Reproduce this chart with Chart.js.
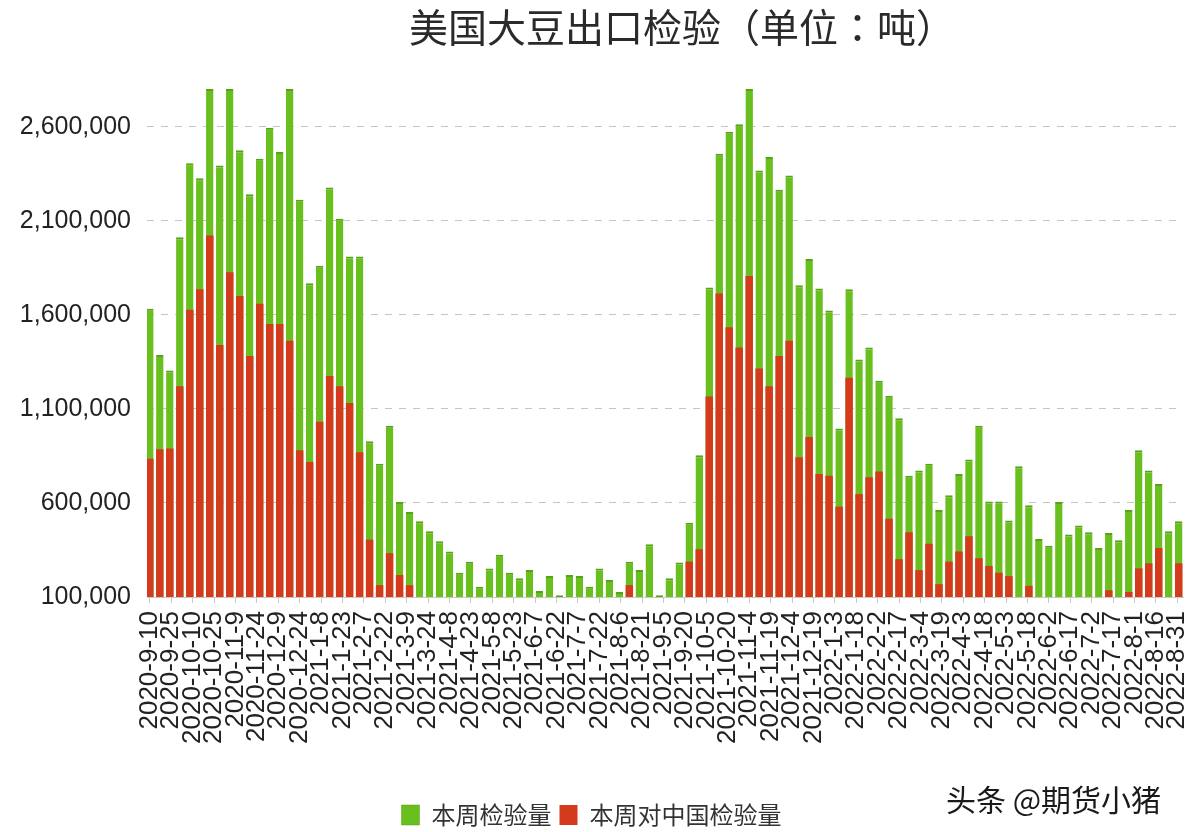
<!DOCTYPE html>
<html>
<head>
<meta charset="utf-8">
<script src="https://cdn.jsdelivr.net/npm/chart.js@4/dist/chart.umd.min.js"></script>
<style>
  html, body { margin: 0; padding: 0; background: #fff; }
  #wrap { position: relative; width: 1188px; height: 832px; }
  #title {
    position: absolute; left: 682px; top: 4px; transform: translateX(-50%);
    font: 39px "Noto Sans CJK SC", sans-serif; color: #2a2a2a; white-space: nowrap; line-height: 1.1;
  }
  #title .p { font-family: "Noto Sans CJK TC", sans-serif; }
  #mark {
    position: absolute; left: 946px; top: 776px;
    font: 30px "Noto Sans CJK SC", sans-serif; color: #1a1a1a; white-space: nowrap;
    text-shadow: 0 0 3px #fff;
  }
</style>
</head>
<body>
<div id="wrap">
  <canvas id="chart" width="1188" height="832"></canvas>
  <div id="title">美国大豆出口检验<span class="p">（</span>单位<span class="p">：</span>吨<span class="p">）</span></div>
  <div id="mark">头条 @期货小猪</div>
</div>
<script>
// weekly inspections, starting 2020-9-10
const startDate = "2020-9-10"

const totalInspected = [
  1632000, 1386000, 1304000, 2012000, 2406000, 2326000, 2800000, 2394000, 2800000, 2475000,
  2241000, 2429000, 2594000, 2465000, 2800000, 2211000, 1767000, 1860000, 2277000, 2111000,
  1910000, 1910000, 928000, 808000, 1010000, 605000, 552000, 503000, 449000, 396000,
  342000, 229000, 288000, 154000, 252000, 324000, 229000, 199000, 243000, 132000,
  211000, 109000, 217000, 211000, 154000, 252000, 190000, 127000, 288000, 243000,
  380000, 109000, 199000, 283000, 494000, 853000, 1745000, 2456000, 2573000, 2612000,
  2800000, 2367000, 2439000, 2265000, 2340000, 1757000, 1896000, 1740000, 1623000, 996000,
  1736000, 1362000, 1426000, 1250000, 1170000, 1050000, 745000, 772000, 808000, 562000,
  641000, 754000, 831000, 1010000, 607000, 607000, 507000, 795000, 588000, 408000,
  373000, 605000, 432000, 480000, 444000, 360000, 440000, 401000, 562000, 880000,
  772000, 700000, 449000, 503000
]

const toChina = [
  835000, 885000, 889000, 1220000, 1627000, 1736000, 2021000, 1439000, 1826000, 1700000,
  1381000, 1659000, 1551000, 1551000, 1462000, 880000, 817000, 1032000, 1274000, 1220000,
  1131000, 870000, 405000, 163000, 333000, 217000, 163000, null, null, null,
  null, null, null, null, null, null, null, null, null, null,
  null, null, null, null, null, null, null, null, 163000, null,
  null, null, null, null, 288000, 354000, 1166000, 1713000, 1534000, 1426000,
  1806000, 1315000, 1220000, 1381000, 1462000, 843000, 951000, 754000, 745000, 580000,
  1265000, 647000, 736000, 767000, 516000, 301000, 444000, 243000, 383000, 168000,
  288000, 342000, 423000, 306000, 265000, 229000, 211000, null, 159000, null,
  null, null, null, null, null, null, 136000, null, 127000, 252000,
  279000, 360000, null, 279000
]

const tickLabels = [
  "2020-9-10", "2020-9-25", "2020-10-10", "2020-10-25", "2020-11-9", "2020-11-24", "2020-12-9",
  "2020-12-24", "2021-1-8", "2021-1-23", "2021-2-7", "2021-2-22", "2021-3-9", "2021-3-24",
  "2021-4-8", "2021-4-23", "2021-5-8", "2021-5-23", "2021-6-7", "2021-6-22", "2021-7-7",
  "2021-7-22", "2021-8-6", "2021-8-21", "2021-9-5", "2021-9-20", "2021-10-5", "2021-10-20",
  "2021-11-4", "2021-11-19", "2021-12-4", "2021-12-19", "2022-1-3", "2022-1-18", "2022-2-2",
  "2022-2-17", "2022-3-4", "2022-3-19", "2022-4-3", "2022-4-18", "2022-5-3", "2022-5-18",
  "2022-6-2", "2022-6-17", "2022-7-2", "2022-7-17", "2022-8-1", "2022-8-16", "2022-8-31"
]

const yTicks = [100000, 600000, 1100000, 1600000, 2100000, 2600000]

// days since startDate
function dayOf(s) {
  const [y, m, d] = s.split("-").map(Number)
  const [y0, m0, d0] = startDate.split("-").map(Number)
  return Math.round((Date.UTC(y, m - 1, d) - Date.UTC(y0, m0 - 1, d0)) / 86400000)
}

const weekDays = totalInspected.map((_, i) => i * 7)
const tickDays = tickLabels.map(dayOf)

const tickFont = { family: "'Liberation Sans', Arial, sans-serif" }

new Chart(document.getElementById("chart"), {
  type: "bar",
  data: {
    datasets: [
      {
        label: "本周对中国检验量",
        data: weekDays.map((x, i) => ({ x: x, y: toChina[i] })),
        backgroundColor: "#d43a1c",
        categoryPercentage: 1,
        barPercentage: 0.75,
      },
      {
        label: "本周检验量",
        data: weekDays.map((x, i) => ({ x: x, y: totalInspected[i] })),
        backgroundColor: "#68bf1e",
        borderColor: "#56a316",
        borderWidth: { top: 2, left: 0, right: 0, bottom: 0 },
        borderSkipped: "bottom",
        categoryPercentage: 1,
        barPercentage: 0.75,
      },
    ],
  },
  options: {
    responsive: false,
    animation: false,
    layout: { padding: { top: 89, right: 5, left: 0, bottom: -5 } },
    plugins: {
      title: { display: false },
      tooltip: { enabled: false },
      legend: {
        position: "bottom",
        reverse: true,
        labels: {
          boxWidth: 18,
          boxHeight: 20,
          padding: 8,
          color: "#333",
          font: { family: "'Noto Sans CJK SC', sans-serif", size: 24 },
        },
      },
    },
    scales: {
      x: {
        type: "linear",
        stacked: true,
        offset: false,
        min: -2,
        max: 724,
        afterBuildTicks: (scale) => {
          scale.ticks = tickDays.map((v) => ({ value: v }))
        },
        afterFit: (scale) => {
          scale.height = 198
          scale.paddingLeft = 0
          scale.paddingRight = 0
        },
        ticks: {
          autoSkip: false,
          minRotation: 90,
          maxRotation: 90,
          padding: 8,
          color: "#222",
          font: { ...tickFont, size: 26 },
          callback: (value, index) => tickLabels[index],
        },
        grid: {
          offset: false,
          drawOnChartArea: false,
          drawTicks: true,
          tickLength: 6,
          color: "#c8c8c8",
        },
        border: { display: true, color: "#c8c8c8" },
      },
      y: {
        stacked: false,
        min: 100000,
        max: 2800000,
        afterBuildTicks: (scale) => {
          scale.ticks = yTicks.map((v) => ({ value: v }))
        },
        afterFit: (scale) => {
          scale.width = 147
        },
        ticks: {
          padding: 16,
          color: "#222",
          font: { ...tickFont, size: 25 },
          callback: (value) => value.toLocaleString("en-US"),
        },
        grid: {
          drawTicks: false,
          color: "#c4c4c4",
          lineWidth: 1,
        },
        border: { display: false, dash: [7, 7] },
      },
    },
  },
})
</script>
</body>
</html>
